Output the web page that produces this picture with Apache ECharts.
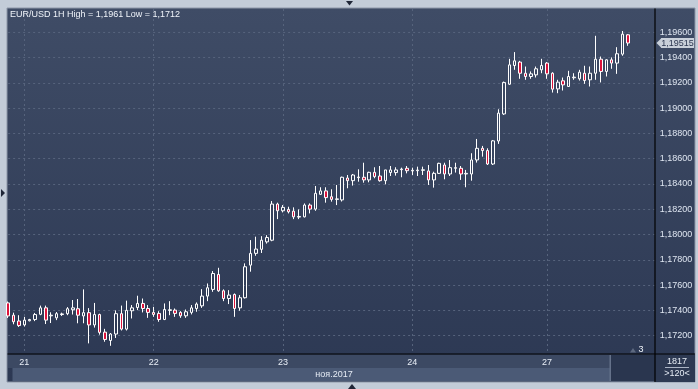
<!DOCTYPE html>
<html><head><meta charset="utf-8">
<script src="https://cdn.jsdelivr.net/npm/echarts@6/dist/echarts.min.js"></script>
<style>html,body{margin:0;padding:0;background:#c3ccd8;overflow:hidden}#c{width:698px;height:389px}</style>
</head><body><div id="c"></div>
<script>
// ---- data (EUR/USD, 1H candles) ----
const opens = [
1.17459,1.17362,1.17316,1.17285,1.17318,1.17328,1.17369,1.17420,1.17357,1.17341,
1.17367,1.17374,1.17405,1.17413,1.17356,1.17382,1.17285,1.17367,1.17228,1.17162,
1.17213,1.17374,1.17252,1.17397,1.17423,1.17455,1.17415,1.17384,1.17376,1.17328,
1.17400,1.17402,1.17384,1.17357,1.17384,1.17415,1.17436,1.17513,1.17566,1.17684,
1.17555,1.17494,1.17526,1.17420,1.17500,1.17758,1.17851,1.17883,1.17942,1.17955,
1.18241,1.18188,1.18199,1.18185,1.18138,1.18140,1.18233,1.18201,1.18318,1.18345,
1.18299,1.18278,1.18274,1.18447,1.18426,1.18450,1.18453,1.18432,1.18492,1.18463,
1.18426,1.18490,1.18490,1.18513,1.18524,1.18503,1.18505,1.18508,1.18503,1.18432,
1.18484,1.18550,1.18479,1.18524,1.18524,1.18479,1.18479,1.18590,1.18682,1.18664,
1.18558,1.18740,1.18954,1.19189,1.19337,1.19364,1.19276,1.19250,1.19263,1.19303,
1.19356,1.19276,1.19152,1.19216,1.19171,1.19240,1.19232,1.19276,1.19224,1.19276,
1.19387,1.19290,1.19382,1.19356,1.19427,1.19580];
const closes = [
1.17356,1.17310,1.17280,1.17323,1.17328,1.17367,1.17420,1.17323,1.17362,1.17374,
1.17372,1.17413,1.17420,1.17362,1.17382,1.17285,1.17367,1.17226,1.17170,1.17213,
1.17374,1.17252,1.17400,1.17420,1.17455,1.17415,1.17384,1.17368,1.17328,1.17407,
1.17405,1.17376,1.17357,1.17389,1.17420,1.17450,1.17513,1.17579,1.17692,1.17555,
1.17494,1.17521,1.17415,1.17500,1.17745,1.17851,1.17885,1.17955,1.17976,1.18241,
1.18188,1.18215,1.18180,1.18140,1.18143,1.18233,1.18201,1.18326,1.18345,1.18292,
1.18278,1.18282,1.18453,1.18426,1.18471,1.18455,1.18432,1.18492,1.18458,1.18426,
1.18511,1.18511,1.18511,1.18518,1.18505,1.18508,1.18510,1.18512,1.18432,1.18484,
1.18563,1.18479,1.18529,1.18529,1.18479,1.18484,1.18590,1.18682,1.18664,1.18558,
1.18741,1.18960,1.19203,1.19342,1.19374,1.19276,1.19250,1.19271,1.19311,1.19337,
1.19271,1.19150,1.19205,1.19184,1.19250,1.19245,1.19284,1.19218,1.19276,1.19387,
1.19290,1.19382,1.19356,1.19430,1.19585,1.19515];
const lows = [
1.17340,1.17290,1.17269,1.17272,1.17313,1.17315,1.17362,1.17292,1.17300,1.17323,
1.17356,1.17362,1.17367,1.17298,1.17298,1.17139,1.17264,1.17208,1.17152,1.17120,
1.17182,1.17241,1.17241,1.17336,1.17402,1.17384,1.17341,1.17349,1.17310,1.17323,
1.17362,1.17349,1.17341,1.17341,1.17368,1.17389,1.17420,1.17473,1.17547,1.17547,
1.17473,1.17450,1.17349,1.17397,1.17494,1.17706,1.17832,1.17854,1.17928,1.17947,
1.18122,1.18175,1.18167,1.18122,1.18122,1.18135,1.18167,1.18188,1.18313,1.18252,
1.18260,1.18233,1.18261,1.18366,1.18387,1.18418,1.18410,1.18413,1.18445,1.18418,
1.18397,1.18463,1.18466,1.18453,1.18484,1.18471,1.18463,1.18471,1.18392,1.18371,
1.18479,1.18437,1.18463,1.18490,1.18432,1.18374,1.18426,1.18569,1.18616,1.18550,
1.18550,1.18717,1.18946,1.19184,1.19303,1.19232,1.19224,1.19232,1.19242,1.19276,
1.19232,1.19123,1.19118,1.19139,1.19171,1.19224,1.19218,1.19192,1.19171,1.19224,
1.19203,1.19250,1.19311,1.19271,1.19414,1.19493];
const highs = [
1.17470,1.17382,1.17362,1.17349,1.17333,1.17380,1.17438,1.17438,1.17385,1.17387,
1.17382,1.17426,1.17482,1.17490,1.17566,1.17418,1.17459,1.17374,1.17254,1.17221,
1.17400,1.17438,1.17477,1.17442,1.17516,1.17494,1.17442,1.17428,1.17394,1.17455,
1.17473,1.17415,1.17394,1.17407,1.17442,1.17463,1.17568,1.17613,1.17711,1.17737,
1.17566,1.17560,1.17534,1.17521,1.17772,1.17956,1.17983,1.17987,1.17995,1.18265,
1.18252,1.18233,1.18220,1.18215,1.18199,1.18246,1.18246,1.18384,1.18374,1.18374,
1.18358,1.18392,1.18458,1.18471,1.18479,1.18516,1.18568,1.18497,1.18532,1.18542,
1.18511,1.18542,1.18532,1.18529,1.18542,1.18529,1.18537,1.18537,1.18550,1.18497,
1.18568,1.18568,1.18589,1.18568,1.18542,1.18511,1.18643,1.18756,1.18701,1.18682,
1.18748,1.18991,1.19210,1.19390,1.19443,1.19374,1.19329,1.19290,1.19329,1.19390,
1.19364,1.19284,1.19224,1.19242,1.19295,1.19276,1.19303,1.19335,1.19329,1.19572,
1.19408,1.19387,1.19401,1.19482,1.19610,1.19585];
const dayLabels = ['21','22','23','24','27'];
const dayStarts = [3,27,51,75,100];
const slotCount = 121;
const yMin = 1.17055, yMax = 1.19784, yTickStep = 0.002;
const lastPrice = 1.19515;
const titleText = 'EUR/USD 1H High = 1,1961 Low = 1,1712';
const monthLabel = 'ноя.2017';
const barCountLabel = '1817';
const zoomLabel = '>120<';
const markerLabel = '3';

// ---- chart ----
const FONT = '"Liberation Sans", Arial, sans-serif';
const chart = echarts.init(document.getElementById('c'), null, {renderer:'canvas', width:698, height:389});
const cats = Array.from({length: slotCount}, (_, i) => String(i));
const ohlc = opens.map((o, i) => [o, closes[i], lows[i], highs[i]]);
const fmt = v => v.toFixed(5).replace('.', ',');
const isDay = i => dayStarts.indexOf(i) >= 0;
const gridCol = '#56637c';

const staticGraphics = [
  {id:'panel', type:'rect', z:-100, shape:{x:7, y:8, width:688, height:374},
   style:{fill:{type:'linear', x:0, y:0, x2:0, y2:1, colorStops:[{offset:0, color:'#3f4c66'},{offset:1, color:'#2c3853'}]}, stroke:'#8d97a8', lineWidth:1}},
  {id:'xstrip', type:'rect', z:-90, shape:{x:8, y:354.5, width:647, height:13.5}, style:{fill:'#3c4963'}},
  {id:'datestrip', type:'rect', z:-90, shape:{x:12.5, y:368, width:598, height:13}, style:{fill:'#4b5a76'}},
  {id:'thumbline', type:'rect', z:-90, shape:{x:609.5, y:355, width:1.5, height:26}, style:{fill:'#65728a'}},
  {id:'thumb', type:'rect', z:-90, shape:{x:611, y:355, width:44, height:26}, style:{fill:'#2a364f'}},
  {id:'rbox', type:'rect', z:-90, shape:{x:655.5, y:354.5, width:39.5, height:27.5}, style:{fill:'#2d3952'}},
  {id:'vline', type:'line', z:50, shape:{x1:655, y1:8.5, x2:655, y2:382}, style:{stroke:'#000', lineWidth:1.2}},
  {id:'hline', type:'line', z:50, shape:{x1:7.5, y1:354, x2:695, y2:354}, style:{stroke:'#000', lineWidth:1.2}},
  {id:'title', type:'text', z:60, x:10, y:15, style:{text:titleText, fill:'#f0f4fa', font:'9px '+FONT, textAlign:'left', textVerticalAlign:'middle', verticalAlign:'middle'}},
  {id:'month', type:'text', z:60, x:334, y:374.5, style:{text:monthLabel, fill:'#e6ecf5', font:'9px '+FONT, textAlign:'center', textVerticalAlign:'middle', verticalAlign:'middle'}},
  {id:'bars', type:'text', z:60, x:677, y:361.5, style:{text:barCountLabel, fill:'#e6ecf5', font:'9px '+FONT, textAlign:'center', textVerticalAlign:'middle', verticalAlign:'middle'}},
  {id:'barsline', type:'line', z:60, shape:{x1:665, y1:367.5, x2:689, y2:367.5}, style:{stroke:'#aab4c4', lineWidth:1}},
  {id:'zoom', type:'text', z:60, x:677, y:374, style:{text:zoomLabel, fill:'#e6ecf5', font:'9px '+FONT, textAlign:'center', textVerticalAlign:'middle', verticalAlign:'middle'}},
  {id:'mk3', type:'text', z:60, x:641, y:349.5, style:{text:markerLabel, fill:'#eef2f8', font:'9px '+FONT, textAlign:'center', textVerticalAlign:'middle', verticalAlign:'middle'}},
  {id:'mktri', type:'polygon', z:60, shape:{points:[[630,352.5],[636,352.5],[633,348]]}, style:{fill:'#5d697f'}},
  {id:'arrTop', type:'polygon', z:60, shape:{points:[[346,1],[353,1],[349.5,5.5]]}, style:{fill:'#1f2637'}},
  {id:'arrLeft', type:'polygon', z:60, shape:{points:[[1,189],[1,197],[5,193]]}, style:{fill:'#1f2637'}},
  {id:'arrBot', type:'polygon', z:60, shape:{points:[[348,389],[356,389],[352,384]]}, style:{fill:'#1f2637'}}
];

const option = {
  animation: false,
  backgroundColor: '#c3ccd8',
  grid: {left: 8.13, right: 698 - 654.8, top: 9, bottom: 389 - 354, containLabel: false, outerBoundsMode: 'none'},
  xAxis: {
    type: 'category', data: cats, boundaryGap: false,
    axisLine: {show: false}, axisTick: {show: false},
    axisLabel: {
      interval: (i) => isDay(i),
      formatter: (v, i) => { const d = dayStarts.indexOf(i); return d >= 0 ? dayLabels[d] : ''; },
      color: '#e8eef6', fontSize: 9, fontFamily: FONT, margin: 4, hideOverlap: false
    },
    splitLine: {show: true, interval: (i) => isDay(i), lineStyle: {color: gridCol, type: [2, 3], width: 1}}
  },
  yAxis: {
    type: 'value', position: 'right', min: yMin, max: yMax,
    splitNumber: 13, minInterval: yTickStep, maxInterval: yTickStep,
    axisLine: {show: false}, axisTick: {show: false},
    axisLabel: {showMinLabel: false, showMaxLabel: false, formatter: v => fmt(v),
      color: '#dfe6f1', fontSize: 9, fontFamily: FONT, margin: 5},
    splitLine: {show: true, showMinLine: false, showMaxLine: false, lineStyle: {color: gridCol, type: [2, 3], width: 1}}
  },
  series: [{
    type: 'candlestick', data: ohlc, barWidth: 3, z: 2,
    itemStyle: {color: 'transparent', color0: '#dc143c', borderColor: '#ffffff', borderColor0: '#ffffff', borderColorDoji: '#ffffff', borderWidth: 1},
    emphasis: {disabled: true}, silent: true
  }],
  graphic: staticGraphics
};
chart.setOption(option);

const py = chart.convertToPixel({yAxisIndex: 0}, lastPrice);
chart.setOption({graphic: [
  {id:'tagArrow', type:'polygon', z:70, shape:{points:[[656.5, py], [661, py - 4.5], [661, py + 4.5]]}, style:{fill:'#c9d0da'}},
  {id:'tagBox', type:'rect', z:70, shape:{x:661, y:py - 5, width:33, height:10}, style:{fill:'#c9d0da'}},
  {id:'tagText', type:'text', z:71, x:677.5, y:py + 0.5, style:{text: fmt(lastPrice), fill:'#2b3650', font:'9px ' + FONT, textAlign:'center', textVerticalAlign:'middle', verticalAlign:'middle'}}
]});
</script>
</body></html>
